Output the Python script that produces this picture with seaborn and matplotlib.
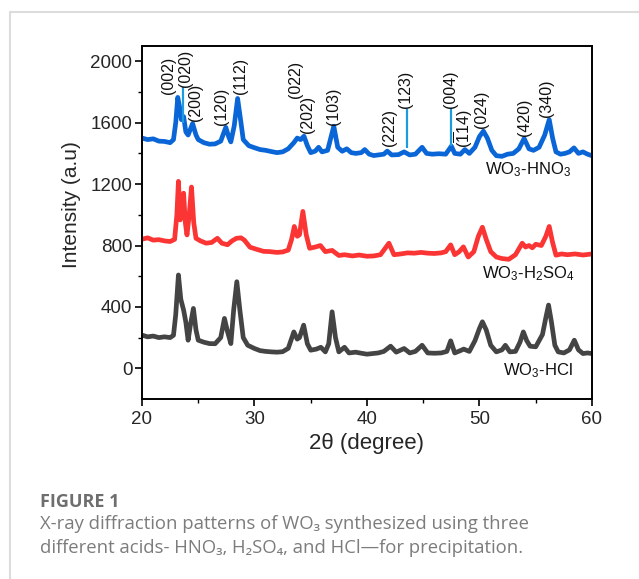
import matplotlib
matplotlib.use("Agg")
import matplotlib.pyplot as plt
from matplotlib.lines import Line2D
import seaborn as sns

# ==========================================
# data (2theta in degree, intensity a.u.)
# ==========================================
hno3_x = [20.0, 20.5, 21.0, 21.5, 22.0, 22.5, 22.8, 23.0, 23.18, 23.35, 23.5, 23.7, 23.9, 24.1, 24.5, 24.8,
          25.0, 25.5, 26.0, 26.5, 27.0, 27.45, 27.7, 27.9, 28.2, 28.5, 28.8, 29.0, 29.5, 30.0, 30.5, 31.0,
          31.5, 32.0, 32.5, 33.0, 33.5, 33.8, 34.1, 34.4, 34.7, 35.0, 35.4, 35.7, 36.0, 36.5, 37.05, 37.4,
          37.8, 38.2, 38.6, 39.0, 39.5, 39.8, 40.2, 40.6, 41.0, 41.5, 41.8, 42.2, 42.8, 43.3, 43.8, 44.3,
          44.9, 45.3, 45.8, 46.4, 47.0, 47.5, 47.8, 48.3, 48.7, 49.1, 49.6, 50.0, 50.35, 50.7, 51.1, 51.5,
          52.0, 52.5, 53.0, 53.5, 53.97, 54.4, 54.8, 55.3, 55.8, 56.2, 56.5, 56.8, 57.2, 57.6, 58.0, 58.4,
          58.8, 59.2, 59.6, 60.0]
hno3_y = [1500, 1490, 1495, 1480, 1478, 1470, 1490, 1600, 1765, 1700, 1620, 1640, 1540, 1520, 1595, 1520,
          1490, 1470, 1460, 1462, 1480, 1570, 1510, 1475, 1580, 1758, 1600, 1490, 1450, 1437, 1425, 1420,
          1412, 1405, 1410, 1430, 1470, 1500, 1490, 1512, 1450, 1405, 1415, 1440, 1410, 1420, 1577, 1440,
          1414, 1430, 1405, 1400, 1405, 1425, 1395, 1386, 1390, 1395, 1415, 1390, 1392, 1410, 1390, 1395,
          1440, 1400, 1395, 1398, 1395, 1447, 1400, 1395, 1425, 1400, 1440, 1510, 1545, 1500, 1420, 1385,
          1381, 1395, 1400, 1430, 1497, 1430, 1420, 1440, 1520, 1620, 1500, 1410, 1395, 1400, 1410, 1436,
          1400, 1410, 1395, 1385]

h2so4_x = [20.0, 20.5, 21.0, 21.5, 22.0, 22.5, 22.9, 23.1, 23.24, 23.4, 23.55, 23.7, 23.85, 24.0, 24.2, 24.4,
           24.6, 24.8, 25.2, 25.7, 26.2, 26.7, 27.1, 27.6, 28.0, 28.4, 28.8, 29.1, 29.6, 30.2, 30.8, 31.4,
           32.0, 32.5, 33.0, 33.3, 33.54, 33.8, 34.0, 34.3, 34.6, 34.9, 35.4, 35.86, 36.3, 36.9, 37.5, 38.0,
           38.7, 39.3, 40.0, 40.6, 41.2, 41.95, 42.4, 43.0, 43.6, 44.2, 44.8, 45.4, 46.0, 46.6, 47.0, 47.44,
           47.8, 48.2, 48.57, 49.0, 49.5, 49.9, 50.26, 50.6, 51.0, 51.5, 52.0, 52.6, 53.2, 53.8, 54.1, 54.4,
           54.7, 55.0, 55.5, 55.9, 56.2, 56.5, 56.8, 57.3, 57.8, 58.5, 59.2, 60.0]
h2so4_y = [841, 850, 835, 838, 830, 826, 840, 1000, 1218, 967, 1000, 1141, 950, 869, 1000, 1181,
           950, 847, 830, 815, 820, 847, 815, 805, 830, 847, 850, 835, 789, 775, 762, 760,
           755, 758, 770, 840, 924, 860, 870, 1022, 870, 782, 790, 800, 760, 768, 735, 740,
           732, 738, 730, 732, 740, 815, 740, 745, 752, 750, 755, 750, 748, 752, 760, 804,
           740, 760, 791, 725, 760, 860, 919, 840, 760, 725, 715, 710, 740, 815, 790, 800,
           785, 808, 800, 860, 924, 820, 737, 745, 740, 745, 738, 745]

hcl_x = [20.0, 20.5, 21.0, 21.5, 22.0, 22.5, 22.8, 23.0, 23.24, 23.45, 23.7, 23.9, 24.1, 24.3, 24.57, 24.8,
         25.0, 25.5, 26.0, 26.5, 27.0, 27.33, 27.6, 27.9, 28.15, 28.43, 28.7, 29.0, 29.4, 30.0, 30.5, 31.0,
         31.5, 32.0, 32.5, 33.0, 33.5, 33.8, 34.0, 34.37, 34.7, 35.0, 35.5, 35.9, 36.3, 36.6, 36.9, 37.2,
         37.5, 38.0, 38.4, 39.0, 39.5, 40.0, 40.5, 41.0, 41.5, 42.1, 42.6, 43.3, 43.8, 44.3, 44.9, 45.4,
         46.0, 46.6, 47.1, 47.44, 47.8, 48.3, 48.6, 49.1, 49.6, 50.0, 50.26, 50.6, 51.0, 51.5, 52.0, 52.3,
         52.7, 53.2, 53.6, 53.9, 54.2, 54.5, 55.0, 55.6, 55.9, 56.14, 56.4, 56.7, 57.0, 57.5, 58.0, 58.43,
         58.8, 59.2, 59.6, 60.0]
hcl_y = [216, 205, 210, 200, 205, 200, 215, 350, 608, 450, 379, 300, 183, 280, 390, 250,
         183, 170, 161, 160, 200, 325, 240, 161, 380, 564, 380, 200, 150, 129, 115, 110,
         107, 105, 108, 130, 237, 190, 200, 281, 160, 118, 125, 137, 107, 160, 368, 200,
         107, 137, 100, 105, 98, 92, 96, 100, 110, 144, 105, 129, 100, 110, 150, 100,
         98, 100, 110, 179, 100, 115, 125, 110, 180, 260, 303, 250, 150, 107, 120, 150,
         107, 110, 170, 237, 180, 144, 140, 220, 330, 412, 300, 150, 107, 100, 120, 183,
         120, 96, 100, 96]

# reference sticks (thin lines) for the HNO3 pattern
stick_x = [23.68, 43.52, 47.5]
stick_lo = [1600, 1438, 1447]
stick_hi = [1830, 1690, 1693]

# hkl labels: position of the label foot
hkl_text = ['(002)', '(020)', '(200)', '(120)', '(112)', '(022)', '(202)', '(103)', '(222)', '(123)',
            '(004)', r'($\overline{1}$14)', '(024)', '(420)', '(340)']
hkl_x = [22.35, 23.83, 24.78, 27.1, 28.73, 33.69, 34.67, 36.99, 42.0, 43.43, 47.44, 48.6, 50.15, 54.03, 55.95]
hkl_y = [1790, 1830, 1610, 1588, 1784, 1762, 1534, 1588, 1447, 1697, 1697, 1436, 1566, 1512, 1638]

series_names = [r'WO$_3$-HNO$_3$', r'WO$_3$-H$_2$SO$_4$', r'WO$_3$-HCl']
series_colors = ['#0a66d6', '#fb3434', '#444444']
name_x = [54.3, 54.3, 55.2]
name_y = [1294, 614, -13]

# ==========================================
# plotting
# ==========================================
sns.set_theme(style='ticks')
plt.rcParams['font.family'] = ['Liberation Sans', 'DejaVu Sans']
plt.rcParams['mathtext.fontset'] = 'custom'
plt.rcParams['mathtext.rm'] = 'Liberation Sans'
plt.rcParams['mathtext.it'] = 'Liberation Sans'
plt.rcParams['mathtext.bf'] = 'Liberation Sans:bold'

fig = plt.figure(figsize=(6.39, 5.79), dpi=100)
ax = fig.add_axes([0.2222, 0.3109, 0.7042, 0.6097])

for xs, ys, col in zip([hno3_x, h2so4_x, hcl_x], [hno3_y, h2so4_y, hcl_y], series_colors):
    sns.lineplot(x=xs, y=ys, color=col, linewidth=3.4, ax=ax, sort=False, estimator=None)

for sx, lo, hi in zip(stick_x, stick_lo, stick_hi):
    ax.vlines(sx, lo, hi, color='#1e9be0', linewidth=1.6)

for t, hx, hy in zip(hkl_text, hkl_x, hkl_y):
    ax.text(hx, hy, t, rotation=90, ha='center', va='bottom', fontsize=11.5, color='#111111')

for nm, nx, ny in zip(series_names, name_x, name_y):
    ax.text(nx, ny, nm, ha='center', va='center', fontsize=12, color='#111111')

ax.set_xlim(20, 60)
ax.set_ylim(-200, 2100)
ax.set_xticks([20, 30, 40, 50, 60])
ax.set_xticks([25, 35, 45, 55], minor=True)
ax.set_yticks([0, 400, 800, 1200, 1600, 2000])
ax.set_yticks([200, 600, 1000, 1400, 1800], minor=True)
ax.tick_params(which='major', direction='out', length=5, width=1.2, labelsize=13.5, color='black')
ax.tick_params(which='minor', direction='out', length=3, width=1.0, color='black')
ax.tick_params(axis='y', pad=2)
for sp in ax.spines.values():
    sp.set_visible(True)
    sp.set_linewidth(1.4)
    sp.set_color('black')

ax.set_xlabel('2θ (degree)', fontsize=16, labelpad=4)
ax.set_ylabel('Intensity (a.u)', fontsize=15)
ax.yaxis.set_label_coords(-0.136, 0.55)

# card border and caption
fig.add_artist(Line2D([10 / 639, 10 / 639], [0, 1 - 12 / 579], color='#dcdcdc', linewidth=1.5))
fig.add_artist(Line2D([10 / 639, 1], [1 - 12 / 579, 1 - 12 / 579], color='#dcdcdc', linewidth=1.5))

cap_font = ['Open Sans', 'Noto Sans', 'DejaVu Sans']
fig.text(40 / 639, 1 - 502 / 579, 'FIGURE 1', fontsize=13, fontweight='bold', color='#6e6e6e',
         family=cap_font, va='center')
fig.text(40 / 639, 1 - 524 / 579, 'X-ray diffraction patterns of WO₃ synthesized using three',
         fontsize=13.3, color='#7c7c7c', family=cap_font, va='center')
fig.text(40 / 639, 1 - 548 / 579, 'different acids- HNO₃, H₂SO₄, and HCl—for precipitation.',
         fontsize=13.3, color='#7c7c7c', family=cap_font, va='center')

fig.savefig('out.png', dpi=100, facecolor='white')
